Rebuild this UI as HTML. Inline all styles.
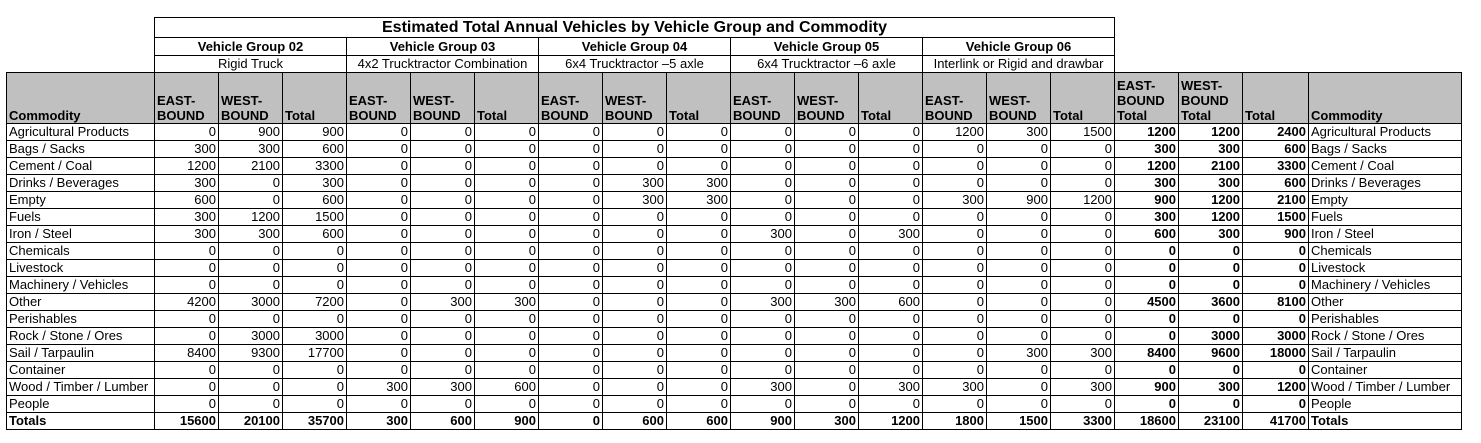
<!DOCTYPE html>
<html><head><meta charset="utf-8">
<style>
html,body{margin:0;padding:0;background:#fff;width:1481px;height:443px;overflow:hidden}
table{position:absolute;left:6px;top:17px;border-collapse:collapse;table-layout:fixed;font-family:"Liberation Sans",Arial,sans-serif;font-size:13px;color:#000}
td{border:1px solid #000;padding:0 2px;height:16px;line-height:14px;text-align:right;white-space:nowrap;overflow:hidden}
td.l{text-align:left}
td.n{border:none}
tr.t td.h{font-size:16px;font-weight:bold;text-align:center;height:19px}
tr.g td.h{font-weight:bold;text-align:center;height:17px}
tr.s td.h{text-align:center;height:16px}
tr.hd td{background:#c0c0c0;font-weight:bold;text-align:left;vertical-align:bottom;height:50px;line-height:15px}
td.b{font-weight:bold}
tr.tot td{font-weight:bold}
</style></head><body>
<table>
<colgroup><col style="width:148px"><col span="15" style="width:64px"><col style="width:64px"><col style="width:64px"><col style="width:66px"><col style="width:153px"></colgroup>
<tr class="t"><td class="n"></td><td class="h" colspan="15">Estimated Total Annual Vehicles by Vehicle Group and Commodity</td><td class="n" colspan="4"></td></tr>
<tr class="g"><td class="n"></td><td class="h" colspan="3">Vehicle Group 02</td><td class="h" colspan="3">Vehicle Group 03</td><td class="h" colspan="3">Vehicle Group 04</td><td class="h" colspan="3">Vehicle Group 05</td><td class="h" colspan="3">Vehicle Group 06</td><td class="n" colspan="4"></td></tr>
<tr class="s"><td class="n"></td><td class="h" colspan="3">Rigid Truck</td><td class="h" colspan="3">4x2 Trucktractor Combination</td><td class="h" colspan="3">6x4 Trucktractor –5 axle</td><td class="h" colspan="3">6x4 Trucktractor –6 axle</td><td class="h" colspan="3">Interlink or Rigid and drawbar</td><td class="n" colspan="4"></td></tr>
<tr class="hd"><td>Commodity</td><td>EAST-<br>BOUND</td><td>WEST-<br>BOUND</td><td>Total</td><td>EAST-<br>BOUND</td><td>WEST-<br>BOUND</td><td>Total</td><td>EAST-<br>BOUND</td><td>WEST-<br>BOUND</td><td>Total</td><td>EAST-<br>BOUND</td><td>WEST-<br>BOUND</td><td>Total</td><td>EAST-<br>BOUND</td><td>WEST-<br>BOUND</td><td>Total</td><td>EAST-<br>BOUND<br>Total</td><td>WEST-<br>BOUND<br>Total</td><td>Total</td><td>Commodity</td></tr>
<tr><td class="l">Agricultural Products</td><td>0</td><td>900</td><td>900</td><td>0</td><td>0</td><td>0</td><td>0</td><td>0</td><td>0</td><td>0</td><td>0</td><td>0</td><td>1200</td><td>300</td><td>1500</td><td class="b">1200</td><td class="b">1200</td><td class="b">2400</td><td class="l">Agricultural Products</td></tr>
<tr><td class="l">Bags / Sacks</td><td>300</td><td>300</td><td>600</td><td>0</td><td>0</td><td>0</td><td>0</td><td>0</td><td>0</td><td>0</td><td>0</td><td>0</td><td>0</td><td>0</td><td>0</td><td class="b">300</td><td class="b">300</td><td class="b">600</td><td class="l">Bags / Sacks</td></tr>
<tr><td class="l">Cement / Coal</td><td>1200</td><td>2100</td><td>3300</td><td>0</td><td>0</td><td>0</td><td>0</td><td>0</td><td>0</td><td>0</td><td>0</td><td>0</td><td>0</td><td>0</td><td>0</td><td class="b">1200</td><td class="b">2100</td><td class="b">3300</td><td class="l">Cement / Coal</td></tr>
<tr><td class="l">Drinks / Beverages</td><td>300</td><td>0</td><td>300</td><td>0</td><td>0</td><td>0</td><td>0</td><td>300</td><td>300</td><td>0</td><td>0</td><td>0</td><td>0</td><td>0</td><td>0</td><td class="b">300</td><td class="b">300</td><td class="b">600</td><td class="l">Drinks / Beverages</td></tr>
<tr><td class="l">Empty</td><td>600</td><td>0</td><td>600</td><td>0</td><td>0</td><td>0</td><td>0</td><td>300</td><td>300</td><td>0</td><td>0</td><td>0</td><td>300</td><td>900</td><td>1200</td><td class="b">900</td><td class="b">1200</td><td class="b">2100</td><td class="l">Empty</td></tr>
<tr><td class="l">Fuels</td><td>300</td><td>1200</td><td>1500</td><td>0</td><td>0</td><td>0</td><td>0</td><td>0</td><td>0</td><td>0</td><td>0</td><td>0</td><td>0</td><td>0</td><td>0</td><td class="b">300</td><td class="b">1200</td><td class="b">1500</td><td class="l">Fuels</td></tr>
<tr><td class="l">Iron / Steel</td><td>300</td><td>300</td><td>600</td><td>0</td><td>0</td><td>0</td><td>0</td><td>0</td><td>0</td><td>300</td><td>0</td><td>300</td><td>0</td><td>0</td><td>0</td><td class="b">600</td><td class="b">300</td><td class="b">900</td><td class="l">Iron / Steel</td></tr>
<tr><td class="l">Chemicals</td><td>0</td><td>0</td><td>0</td><td>0</td><td>0</td><td>0</td><td>0</td><td>0</td><td>0</td><td>0</td><td>0</td><td>0</td><td>0</td><td>0</td><td>0</td><td class="b">0</td><td class="b">0</td><td class="b">0</td><td class="l">Chemicals</td></tr>
<tr><td class="l">Livestock</td><td>0</td><td>0</td><td>0</td><td>0</td><td>0</td><td>0</td><td>0</td><td>0</td><td>0</td><td>0</td><td>0</td><td>0</td><td>0</td><td>0</td><td>0</td><td class="b">0</td><td class="b">0</td><td class="b">0</td><td class="l">Livestock</td></tr>
<tr><td class="l">Machinery / Vehicles</td><td>0</td><td>0</td><td>0</td><td>0</td><td>0</td><td>0</td><td>0</td><td>0</td><td>0</td><td>0</td><td>0</td><td>0</td><td>0</td><td>0</td><td>0</td><td class="b">0</td><td class="b">0</td><td class="b">0</td><td class="l">Machinery / Vehicles</td></tr>
<tr><td class="l">Other</td><td>4200</td><td>3000</td><td>7200</td><td>0</td><td>300</td><td>300</td><td>0</td><td>0</td><td>0</td><td>300</td><td>300</td><td>600</td><td>0</td><td>0</td><td>0</td><td class="b">4500</td><td class="b">3600</td><td class="b">8100</td><td class="l">Other</td></tr>
<tr><td class="l">Perishables</td><td>0</td><td>0</td><td>0</td><td>0</td><td>0</td><td>0</td><td>0</td><td>0</td><td>0</td><td>0</td><td>0</td><td>0</td><td>0</td><td>0</td><td>0</td><td class="b">0</td><td class="b">0</td><td class="b">0</td><td class="l">Perishables</td></tr>
<tr><td class="l">Rock / Stone / Ores</td><td>0</td><td>3000</td><td>3000</td><td>0</td><td>0</td><td>0</td><td>0</td><td>0</td><td>0</td><td>0</td><td>0</td><td>0</td><td>0</td><td>0</td><td>0</td><td class="b">0</td><td class="b">3000</td><td class="b">3000</td><td class="l">Rock / Stone / Ores</td></tr>
<tr><td class="l">Sail / Tarpaulin</td><td>8400</td><td>9300</td><td>17700</td><td>0</td><td>0</td><td>0</td><td>0</td><td>0</td><td>0</td><td>0</td><td>0</td><td>0</td><td>0</td><td>300</td><td>300</td><td class="b">8400</td><td class="b">9600</td><td class="b">18000</td><td class="l">Sail / Tarpaulin</td></tr>
<tr><td class="l">Container</td><td>0</td><td>0</td><td>0</td><td>0</td><td>0</td><td>0</td><td>0</td><td>0</td><td>0</td><td>0</td><td>0</td><td>0</td><td>0</td><td>0</td><td>0</td><td class="b">0</td><td class="b">0</td><td class="b">0</td><td class="l">Container</td></tr>
<tr><td class="l">Wood / Timber / Lumber</td><td>0</td><td>0</td><td>0</td><td>300</td><td>300</td><td>600</td><td>0</td><td>0</td><td>0</td><td>300</td><td>0</td><td>300</td><td>300</td><td>0</td><td>300</td><td class="b">900</td><td class="b">300</td><td class="b">1200</td><td class="l">Wood / Timber / Lumber</td></tr>
<tr><td class="l">People</td><td>0</td><td>0</td><td>0</td><td>0</td><td>0</td><td>0</td><td>0</td><td>0</td><td>0</td><td>0</td><td>0</td><td>0</td><td>0</td><td>0</td><td>0</td><td class="b">0</td><td class="b">0</td><td class="b">0</td><td class="l">People</td></tr>
<tr class="tot"><td class="l">Totals</td><td>15600</td><td>20100</td><td>35700</td><td>300</td><td>600</td><td>900</td><td>0</td><td>600</td><td>600</td><td>900</td><td>300</td><td>1200</td><td>1800</td><td>1500</td><td>3300</td><td>18600</td><td>23100</td><td>41700</td><td class="l">Totals</td></tr>
</table>
</body></html>
